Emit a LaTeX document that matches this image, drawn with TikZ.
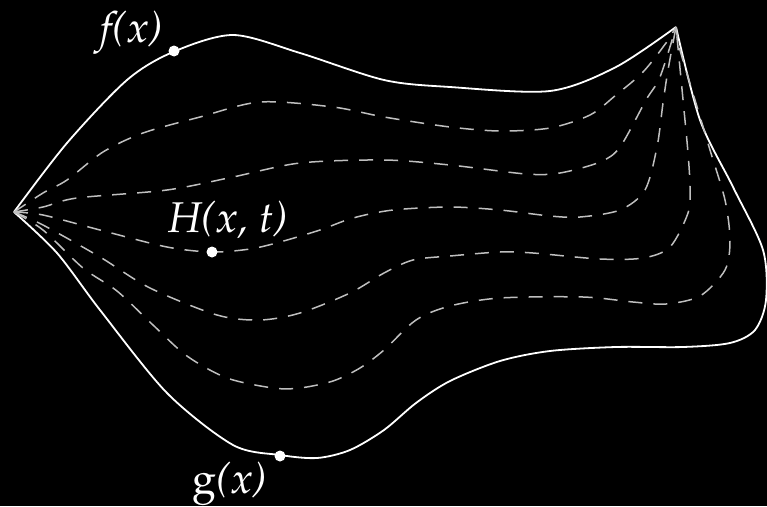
\documentclass[tikz,border=0pt]{standalone}
\usepackage[T1]{fontenc}
\usepackage{mathpazo}
\renewcommand{\rmdefault}{ppl}
\tikzset{
  fpath/.style = {draw=white, line width=1.8pt},
  hpath/.style = {draw=white!75!black, line width=1.5pt, dash pattern=on 14pt off 11pt},
  pt/.style = {circle, fill=white, inner sep=0pt, minimum size=11pt},
  lbl/.style = {text=white, anchor=base, font=\fontsize{43}{48}\selectfont\itshape}
}
\begin{document}
\begin{tikzpicture}[x=1pt, y=-1pt]
  \fill[black] (0,0) rectangle (767,506);
  \useasboundingbox (0,0) rectangle (767,506);
  % the two paths
  \draw[fpath] plot[smooth] coordinates {(14,212) (67,143) (127,80) (173,52) (233,35) (300,53) (384,80) (450,87) (550,91) (616,67) (676,27)};
  \draw[fpath] plot[smooth] coordinates {(14,212) (57,253) (100,310) (167,393) (233,445) (280,455) (317,458) (350,450) (384,430) (416,403) (450,381) (500,361) (550,351) (616,347) (683,347) (730,343) (755,330) (766,300) (763,250) (733,187) (700,120) (676,27)};
  % the homotopy in between
  \draw[hpath] plot[smooth] coordinates {(14,212) (43,193) (67,180) (103,152) (143,133) (200,117) (260,102) (333,107) (384,117) (450,127) (500,131) (550,128) (590,115) (616,95) (643,72) (666,43) (676,27)};
  \draw[hpath] plot[smooth] coordinates {(14,212) (43,207) (77,198) (167,190) (233,177) (300,163) (384,160) (450,165) (526,174) (560,173) (600,162) (620,147) (646,100) (660,77) (676,27)};
  \draw[hpath] plot[smooth] coordinates {(14,212) (43,215) (100,230) (167,247) (212,252) (250,249) (280,242) (320,230) (353,218) (393,210) (450,207) (500,210) (550,216) (580,217) (620,210) (645,190) (657,147) (663,103) (668,70) (676,27)};
  \draw[hpath] plot[smooth] coordinates {(14,212) (43,225) (100,257) (150,288) (217,315) (260,320) (300,313) (350,293) (384,273) (413,260) (450,256) (500,252) (533,253) (600,259) (643,258) (670,247) (688,213) (690,187) (688,153) (684,110) (676,27)};
  \draw[hpath] plot[smooth] coordinates {(14,212) (43,230) (83,268) (117,291) (153,325) (187,356) (227,378) (273,388) (300,388) (333,381) (360,368) (384,350) (416,320) (450,306) (500,298) (583,297) (633,302) (666,304) (700,296) (725,270) (730,240) (725,200) (710,150) (695,100) (680,50) (676,27)};
  % points and labels
  \node[pt] (fp) at (174,51) {};
  \node[pt] (gp) at (280,456) {};
  \node[pt] (hp) at (212,252) {};
  \node[lbl] (fl) at (132,42) {f(x)};
  \node[lbl] (gl) at (230,493) {\textup{g}(x)};
  \node[lbl] (hl) at (228,232) {H(x, t)};
\end{tikzpicture}
\end{document}
